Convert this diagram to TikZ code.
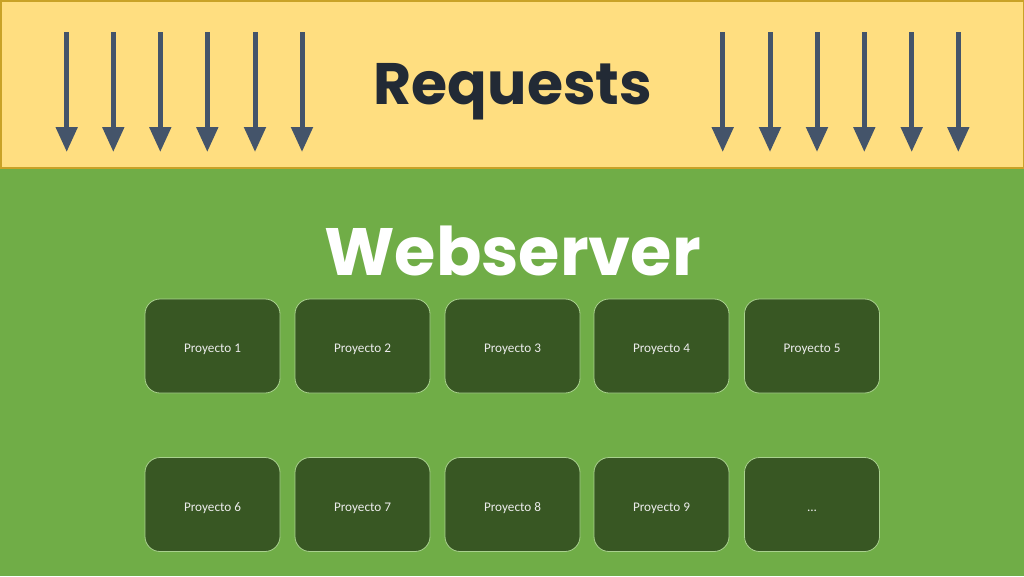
\documentclass[tikz,border=0pt]{standalone}
\usepackage{fontspec}
\setmainfont{Carlito}
\newfontfamily\titlefont{Poppins}[UprightFont=* Bold]
\usetikzlibrary{arrows.meta}
\definecolor{bandyellow}{HTML}{FFDE80}
\definecolor{bandborder}{HTML}{C9A227}
\definecolor{bggreen}{HTML}{70AD47}
\definecolor{boxgreen}{HTML}{385723}
\definecolor{boxborder}{HTML}{A9D18E}
\definecolor{arrowslate}{HTML}{44546A}
\definecolor{titledark}{HTML}{222A35}
\definecolor{boxtext}{HTML}{ECECEC}
\tikzset{
  reqarrow/.style={draw=arrowslate, line width=5pt, -{Triangle[length=25pt,width=21pt]}},
  projbox/.style={draw=boxborder, line width=0.8pt, fill=boxgreen, rounded corners=15pt,
    minimum width=135pt, minimum height=94pt, inner sep=0pt, text=boxtext,
    font=\fontsize{13.2}{15}\selectfont},
}
\newcommand{\boxlabel}[1]{\raisebox{-6.5pt}[0pt][0pt]{#1}}
\begin{document}
\begin{tikzpicture}[x=1pt,y=-1pt]
\useasboundingbox (0,0) rectangle (1024,576);
\fill[bggreen] (0,168) rectangle (1024,576);
\draw[bandborder, fill=bandyellow, line width=1.5pt] (0.75,0.75) rectangle (1023.25,168);
\node[anchor=base, text=titledark, font=\titlefont\fontsize{58.5}{60}\selectfont, inner sep=0pt] (req) at (513,104) {Requests};
\node[anchor=base, text=white, font=\titlefont\fontsize{67}{70}\selectfont, inner sep=0pt] (web) at (512.5,275) {Webserver};
\foreach \x [count=\i] in {66.7,113.3,160.3,207.3,255,302,722.7,770,817,864.3,911.7,958.3} {
  \coordinate (s\i) at (\x,32);
  \coordinate (e\i) at (\x,152);
  \draw[reqarrow] (s\i) -- (e\i);
}
\node[projbox] (p1) at (212.5,346) {\boxlabel{Proyecto 1}};
\node[projbox] (p2) at (362.5,346) {\boxlabel{Proyecto 2}};
\node[projbox] (p3) at (512.5,346) {\boxlabel{Proyecto 3}};
\node[projbox] (p4) at (661.5,346) {\boxlabel{Proyecto 4}};
\node[projbox] (p5) at (812,346) {\boxlabel{Proyecto 5}};
\node[projbox] (p6) at (212.5,504.5) {\boxlabel{Proyecto 6}};
\node[projbox] (p7) at (362.5,504.5) {\boxlabel{Proyecto 7}};
\node[projbox] (p8) at (512.5,504.5) {\boxlabel{Proyecto 8}};
\node[projbox] (p9) at (661.5,504.5) {\boxlabel{Proyecto 9}};
\node[projbox] (p10) at (812,504.5) {\boxlabel{...}};
\end{tikzpicture}
\end{document}
